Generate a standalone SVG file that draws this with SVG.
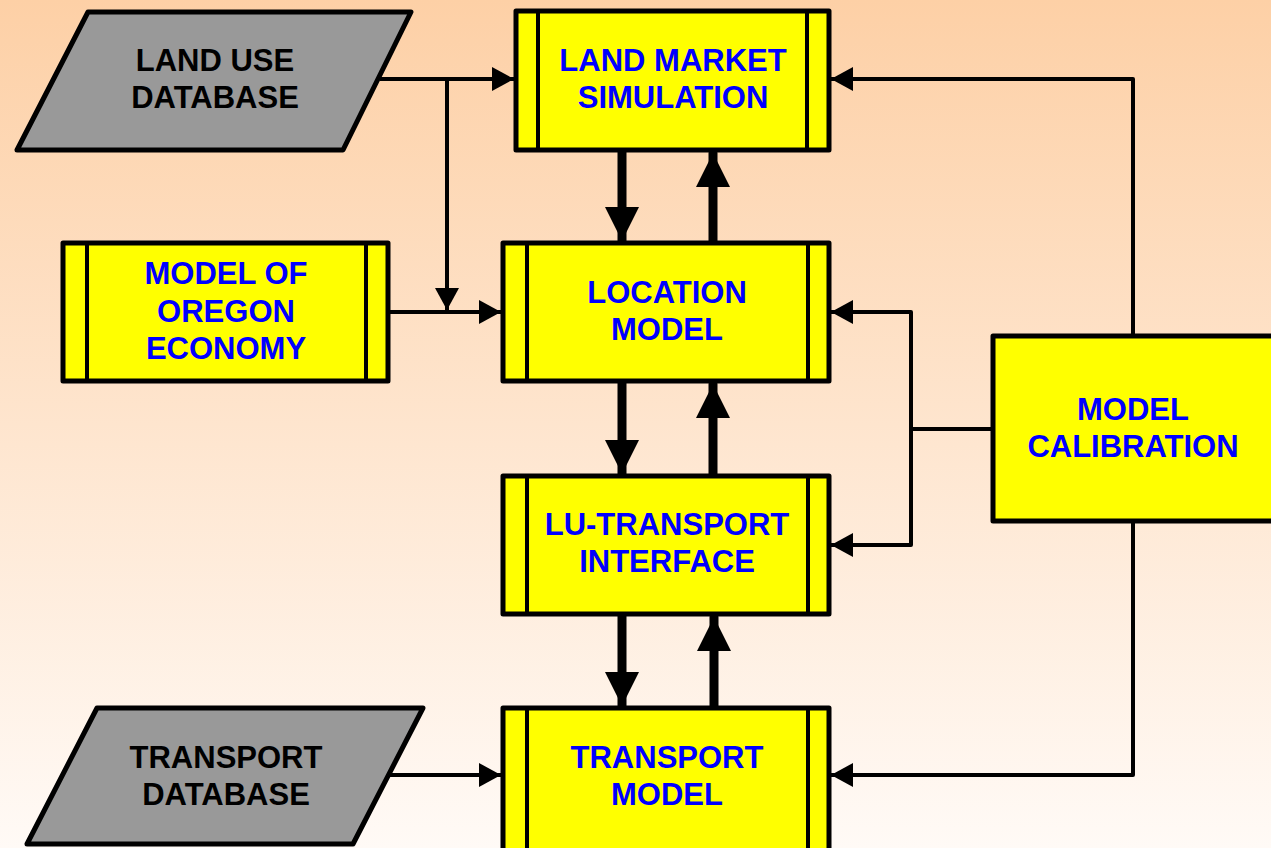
<svg xmlns="http://www.w3.org/2000/svg" width="1271" height="848" viewBox="0 0 1271 848">
<defs>
<linearGradient id="bg" x1="0" y1="0" x2="0" y2="1">
<stop offset="0" stop-color="#FDD0A6"/>
<stop offset="1" stop-color="#FFFAF6"/>
</linearGradient>
<marker id="ah" markerUnits="userSpaceOnUse" markerWidth="24" markerHeight="26" refX="22" refY="12" orient="auto">
<path d="M0,0 L22,12 L0,24 Z" fill="#000"/>
</marker>
<marker id="big" markerUnits="userSpaceOnUse" markerWidth="36" markerHeight="36" refX="34" refY="17" orient="auto">
<path d="M0,0 L34,17 L0,34 Z" fill="#000"/>
</marker>
</defs>
<style>
.proc{fill:#FFFF00;stroke:#000;stroke-width:5;stroke-linejoin:round}
.bar{stroke:#000;stroke-width:4}
.data{fill:#999999;stroke:#000;stroke-width:5;stroke-linejoin:round}
.bt{font-family:"Liberation Sans",Arial,sans-serif;font-weight:bold;font-size:31px;fill:#0000FF;text-anchor:middle}
.dt{font-family:"Liberation Sans",Arial,sans-serif;font-weight:bold;font-size:31px;fill:#000;text-anchor:middle}
.thin{fill:none;stroke:#000;stroke-width:4;stroke-linejoin:round}
.thick{fill:none;stroke:#000;stroke-width:9;stroke-linecap:round}
</style>
<rect width="1271" height="848" fill="url(#bg)"/>
<g id="connectors">
<path class="thin" d="M380,79 H514" marker-end="url(#ah)"/>
<path class="thin" d="M447,79 V310" marker-end="url(#ah)"/>
<path class="thin" d="M388,312 H501" marker-end="url(#ah)"/>
<path class="thin" d="M390,775 H501" marker-end="url(#ah)"/>
<path class="thin" d="M1133,336 V79 H831" marker-end="url(#ah)"/>
<path class="thin" d="M1133,521 V775 H831" marker-end="url(#ah)"/>
<path class="thin" d="M993,429 H911"/>
<path class="thin" d="M911,429 V312 H831" marker-end="url(#ah)"/>
<path class="thin" d="M911,429 V545 H831" marker-end="url(#ah)"/>
<path class="thick" d="M622,151 V241" marker-end="url(#big)"/>
<path class="thick" d="M713,242 V153" marker-end="url(#big)"/>
<path class="thick" d="M622,382 V474" marker-end="url(#big)"/>
<path class="thick" d="M713,475 V384" marker-end="url(#big)"/>
<path class="thick" d="M622,615 V706" marker-end="url(#big)"/>
<path class="thick" d="M714,707 V617" marker-end="url(#big)"/>
</g>
<g id="landuse-db">
<polygon class="data" points="88,12 411,12 343,150 17,150"/>
<text class="dt" x="215" y="71">LAND USE</text>
<text class="dt" x="215" y="108">DATABASE</text>
</g>
<g id="land-market">
<rect class="proc" x="516" y="11" width="313" height="139"/>
<line class="bar" x1="538" y1="11" x2="538" y2="150"/>
<line class="bar" x1="807" y1="11" x2="807" y2="150"/>
<text class="bt" x="673" y="71">LAND MARKET</text>
<text class="bt" x="673" y="108">SIMULATION</text>
</g>
<g id="oregon">
<rect class="proc" x="63" y="243" width="325" height="138"/>
<line class="bar" x1="87" y1="243" x2="87" y2="381"/>
<line class="bar" x1="366" y1="243" x2="366" y2="381"/>
<text class="bt" x="226" y="284">MODEL OF</text>
<text class="bt" x="226" y="322">OREGON</text>
<text class="bt" x="226" y="359">ECONOMY</text>
</g>
<g id="location">
<rect class="proc" x="503" y="243" width="326" height="138"/>
<line class="bar" x1="527" y1="243" x2="527" y2="381"/>
<line class="bar" x1="808" y1="243" x2="808" y2="381"/>
<text class="bt" x="667" y="303">LOCATION</text>
<text class="bt" x="667" y="340">MODEL</text>
</g>
<g id="lu-transport">
<rect class="proc" x="503" y="476" width="326" height="138"/>
<line class="bar" x1="527" y1="476" x2="527" y2="614"/>
<line class="bar" x1="808" y1="476" x2="808" y2="614"/>
<text class="bt" x="667" y="535">LU-TRANSPORT</text>
<text class="bt" x="667" y="572">INTERFACE</text>
</g>
<g id="transport-model">
<rect class="proc" x="503" y="708" width="326" height="145"/>
<line class="bar" x1="527" y1="708" x2="527" y2="853"/>
<line class="bar" x1="808" y1="708" x2="808" y2="853"/>
<text class="bt" x="667" y="768">TRANSPORT</text>
<text class="bt" x="667" y="805">MODEL</text>
</g>
<g id="calibration">
<rect class="proc" x="993" y="336" width="285" height="185"/>
<text class="bt" x="1133" y="420">MODEL</text>
<text class="bt" x="1133" y="457">CALIBRATION</text>
</g>
<g id="transport-db">
<polygon class="data" points="97,708 423,708 353,844 27,844"/>
<text class="dt" x="226" y="768">TRANSPORT</text>
<text class="dt" x="226" y="805">DATABASE</text>
</g>
</svg>
